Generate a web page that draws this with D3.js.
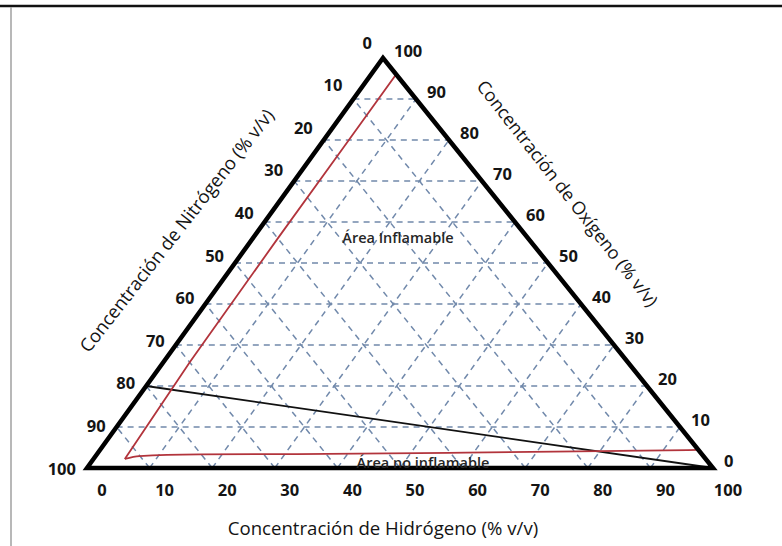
<!DOCTYPE html>
<html>
<head>
<meta charset="utf-8">
<script src="https://cdn.jsdelivr.net/npm/d3@7"></script>
<style>
  html, body { margin: 0; padding: 0; background: #fff; }
  svg { display: block; }
</style>
</head>
<body>
<svg id="chart" width="782" height="546"></svg>
<script>
// Ternary diagram H2 / O2 / N2 (percent by volume)
const ticks = [0, 10, 20, 30, 40, 50, 60, 70, 80, 90, 100];
const gridLevels = [10, 20, 30, 40, 50, 60, 70, 80, 90];

// Flammability envelope: [hydrogen %, oxygen %] (nitrogen = remainder)
const flammableH = [0, 4.0, 4.0, 4.0, 4.2, 5.0, 7.0, 16.5, 32.0, 56.0, 80.0, 95.6];
const flammableO = [100, 96.0, 78.0, 56.0, 26.0, 2.2, 2.9, 3.3, 3.4, 3.7, 4.1, 4.4];

// Hydrogen + air line: from (H 0, O 20) to pure hydrogen
const airH = [0, 100];
const airO = [20, 0];

const titleN = "Concentración de Nitrógeno (% v/v)";
const titleO = "Concentración de Oxígeno (% v/v)";
const titleH = "Concentración de Hidrógeno (% v/v)";
const labelIn = "Área Inflamable";
const labelOut = "Área no inflamable";

const svg = d3.select("#chart");

// Corners: N (bottom-left), H (bottom-right), O (top)
const hx = d3.scaleLinear().domain([0, 100]).range([87, 713]);   // hydrogen along base
const oy = d3.scaleLinear().domain([0, 100]).range([468, 58]);   // oxygen height
const ox = d3.scaleLinear().domain([0, 100]).range([0, 296]);    // horizontal shift of apex

const pt = (h, o) => [hx(h) + ox(o), oy(o)];

// frame
svg.append("line").attr("x1", 0).attr("x2", 782).attr("y1", 6).attr("y2", 6)
  .attr("stroke", "#111").attr("stroke-width", 2.5);
svg.append("line").attr("x1", 11).attr("x2", 11).attr("y1", 7).attr("y2", 546)
  .attr("stroke", "#a0a0a0").attr("stroke-width", 1.5);

// dashed grid
const grid = svg.append("g")
  .attr("fill", "none")
  .attr("stroke", "#7189ab")
  .attr("stroke-width", 1.5)
  .attr("stroke-dasharray", "6,5");
const line = d3.line();
gridLevels.forEach(v => {
  // constant oxygen (horizontal)
  grid.append("path").attr("d", line([pt(0, v), pt(100 - v, v)]));
  // constant hydrogen (parallel to left side)
  grid.append("path").attr("d", line([pt(v, 0), pt(v, 100 - v)]));
  // constant nitrogen (parallel to right side)
  grid.append("path").attr("d", line([pt(100 - v, 0), pt(0, 100 - v)]));
});

// air line
svg.append("path")
  .attr("d", line(airH.map((h, i) => pt(h, airO[i]))))
  .attr("fill", "none").attr("stroke", "#111").attr("stroke-width", 1.8);

// flammability envelope
svg.append("path")
  .attr("d", d3.line().curve(d3.curveMonotoneX)
    .x(d => d[0]).y(d => d[1])
    (flammableH.slice(5).map((h, i) => pt(h, flammableO[i + 5]))))
  .attr("fill", "none").attr("stroke", "#b2343c").attr("stroke-width", 1.8);
svg.append("path")
  .attr("d", line(flammableH.slice(0, 6).map((h, i) => pt(h, flammableO[i]))))
  .attr("fill", "none").attr("stroke", "#b2343c").attr("stroke-width", 1.8);

// triangle outline
svg.append("path")
  .attr("d", line([pt(0, 0), pt(100, 0), pt(0, 100)]) + "Z")
  .attr("fill", "none").attr("stroke", "#000").attr("stroke-width", 4.5)
  .attr("stroke-linejoin", "miter");

const font = "'Open Sans', 'DejaVu Sans', sans-serif";
const tickStyle = s => s.attr("font-family", font).attr("font-weight", 700)
  .attr("font-size", 16.5).attr("fill", "#141414").attr("dominant-baseline", "central");

// hydrogen ticks (base)
svg.append("g").selectAll("text").data(ticks).join("text")
  .call(tickStyle)
  .attr("text-anchor", "middle")
  .attr("x", d => hx(d) + 15)
  .attr("y", 489)
  .text(d => d);

// nitrogen ticks (left side): N = k at H = 0, O = 100 - k
svg.append("g").selectAll("text").data(ticks).join("text")
  .call(tickStyle)
  .attr("text-anchor", "end")
  .attr("x", d => pt(0, 100 - d)[0] - 11)
  .attr("y", d => pt(0, 100 - d)[1] - 16 + 0.16 * d)
  .text(d => d);

// oxygen ticks (right side): O = k at N = 0
svg.append("g").selectAll("text").data(ticks).join("text")
  .call(tickStyle)
  .attr("text-anchor", "start")
  .attr("x", d => pt(100 - d, d)[0] + 11)
  .attr("y", d => pt(100 - d, d)[1] - 8)
  .text(d => d);

// axis titles
const titleStyle = s => s.attr("font-family", font)
  .attr("fill", "#141414").attr("text-anchor", "middle").attr("dominant-baseline", "central");
svg.append("text").call(titleStyle).attr("font-size", 18.4)
  .attr("transform", "translate(176,230) rotate(-52)")
  .text(titleN);
svg.append("text").call(titleStyle).attr("font-size", 18)
  .attr("transform", "translate(568,193) rotate(52)")
  .text(titleO);
svg.append("text").call(titleStyle).attr("font-size", 18.6)
  .attr("x", 383).attr("y", 527)
  .text(titleH);

// region labels
svg.append("text")
  .attr("font-family", font).attr("font-size", 14.5).attr("font-weight", 600)
  .attr("fill", "#262626").attr("text-anchor", "middle").attr("dominant-baseline", "central")
  .attr("x", 398).attr("y", 237).text(labelIn);
svg.append("text")
  .attr("font-family", font).attr("font-size", 14.5).attr("font-weight", 600)
  .attr("fill", "#262626").attr("text-anchor", "middle").attr("dominant-baseline", "central")
  .attr("x", 423).attr("y", 462).text(labelOut);
</script>
</body>
</html>
